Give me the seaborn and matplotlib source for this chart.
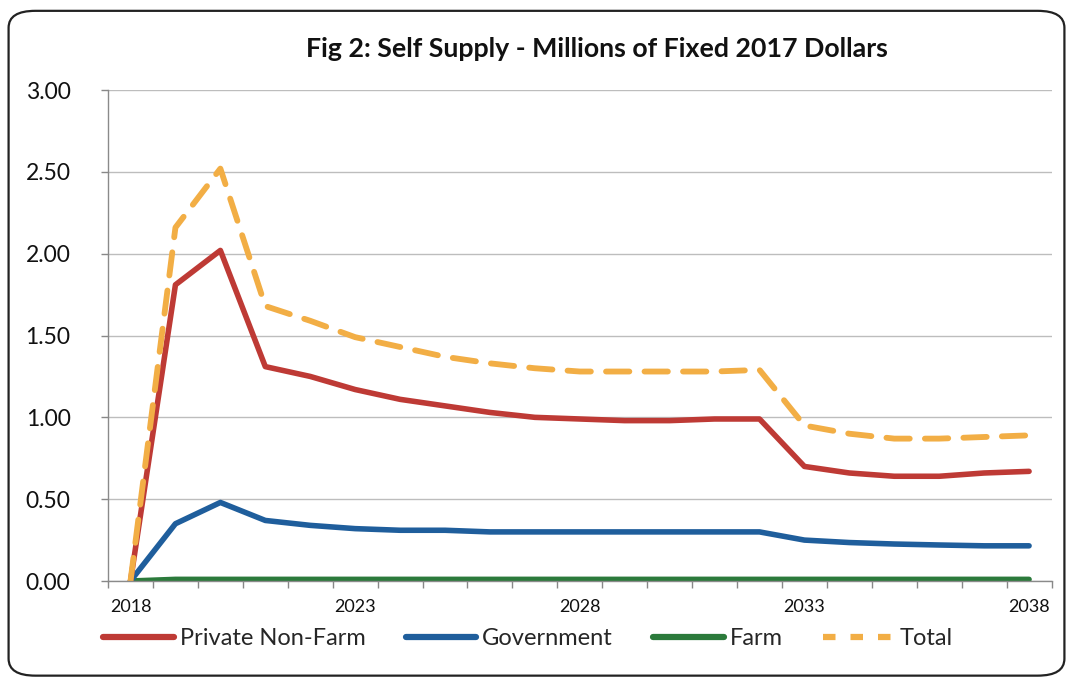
import matplotlib
matplotlib.use("Agg")
import matplotlib.pyplot as plt
from matplotlib.patches import FancyBboxPatch
from matplotlib.lines import Line2D
import seaborn as sns
import pandas as pd

years = list(range(2018, 2039))
private_non_farm = [0.00, 1.81, 2.02, 1.31, 1.25, 1.17, 1.11, 1.07, 1.03, 1.00, 0.99,
                    0.98, 0.98, 0.99, 0.99, 0.70, 0.66, 0.64, 0.64, 0.66, 0.67]
government = [0.00, 0.35, 0.48, 0.37, 0.34, 0.32, 0.31, 0.31, 0.30, 0.30, 0.30,
              0.30, 0.30, 0.30, 0.30, 0.25, 0.235, 0.226, 0.22, 0.215, 0.215]
farm = [0.00, 0.01, 0.01, 0.01, 0.01, 0.01, 0.01, 0.01, 0.01, 0.01, 0.01,
        0.01, 0.01, 0.01, 0.01, 0.01, 0.01, 0.01, 0.01, 0.01, 0.01]
total = [0.00, 2.16, 2.52, 1.68, 1.59, 1.49, 1.43, 1.37, 1.33, 1.30, 1.28,
         1.28, 1.28, 1.28, 1.29, 0.95, 0.90, 0.87, 0.87, 0.88, 0.89]

series_names = ["Private Non-Farm", "Government", "Farm", "Total"]
colors = ["#BE3A35", "#1F5E9C", "#2B7A3B", "#F2AE45"]
year_labels = ["2018", "2023", "2028", "2033", "2038"]
y_ticks = [0.0, 0.5, 1.0, 1.5, 2.0, 2.5, 3.0]

df = pd.DataFrame({"Year": years, series_names[0]: private_non_farm,
                   series_names[1]: government, series_names[2]: farm,
                   series_names[3]: total})

sns.set_theme(style="white")
plt.rcParams["font.family"] = ["Lato", "DejaVu Sans"]

fig = plt.figure(figsize=(10.73, 6.77), dpi=100)
fig.patch.set_facecolor("white")

# rounded frame around the whole chart
frame = FancyBboxPatch((0.008, 0.002), 0.984, 0.982,
                       boxstyle="round,pad=0,rounding_size=0.025",
                       transform=fig.transFigure, facecolor="none",
                       edgecolor="#222222", linewidth=1.6, zorder=0)
fig.patches.append(frame)

ax = fig.add_axes([0.1007, 0.1418, 0.8793, 0.7252])

line_kw = dict(linewidth=4.0, solid_capstyle="round")
sns.lineplot(data=df, x="Year", y=series_names[2], ax=ax, color=colors[2], **line_kw)
sns.lineplot(data=df, x="Year", y=series_names[1], ax=ax, color=colors[1], **line_kw)
sns.lineplot(data=df, x="Year", y=series_names[0], ax=ax, color=colors[0], **line_kw)
sns.lineplot(data=df, x="Year", y=series_names[3], ax=ax, color=colors[3],
             linewidth=4.2, dashes=False)
ax.lines[-1].set_dashes([4, 2.6])
ax.lines[-1].set_dash_capstyle("round")

ax.set_xlim(2017.5, 2038.5)
ax.set_ylim(0, 3.0)
ax.set_yticks(y_ticks)
ax.set_yticklabels([f"{v:.2f}" for v in y_ticks], fontsize=16.5, color="#111111")
ax.set_xticks([int(y) for y in year_labels])
ax.set_xticklabels(year_labels, fontsize=13, color="#111111")
ax.set_xticks([2017.5 + i for i in range(22)], minor=True)
ax.tick_params(axis="x", which="major", length=0, pad=13)
ax.tick_params(axis="x", which="minor", length=5, width=1, color="#888888",
               direction="out", bottom=True)
ax.tick_params(axis="y", which="major", length=5, width=1, color="#888888",
               direction="out", left=True, pad=22)
ax.set_xlabel("")
ax.set_ylabel("")

ax.grid(axis="y", color="#BDBDBD", linewidth=1)
ax.grid(axis="x", visible=False)
for side in ["top", "right"]:
    ax.spines[side].set_visible(False)
for side in ["left", "bottom"]:
    ax.spines[side].set_color("#8A8A8A")
    ax.spines[side].set_linewidth(1)

fig.text(0.556, 0.928, "Fig 2: Self Supply - Millions of Fixed 2017 Dollars",
         ha="center", va="center", fontsize=19.3, fontweight="bold", color="#111111")

handles = [Line2D([0], [0], color=colors[0], linewidth=4.5),
           Line2D([0], [0], color=colors[1], linewidth=4.5),
           Line2D([0], [0], color=colors[2], linewidth=4.5),
           Line2D([0], [0], color=colors[3], linewidth=4.5, dashes=[2.0, 2.4])]
fig.legend(handles, series_names, loc="center", bbox_to_anchor=(0.492, 0.057),
           ncol=4, frameon=False, fontsize=17, handlelength=3.0,
           handletextpad=0.25, columnspacing=1.7)

fig.savefig("out.png", dpi=100, facecolor="white")
